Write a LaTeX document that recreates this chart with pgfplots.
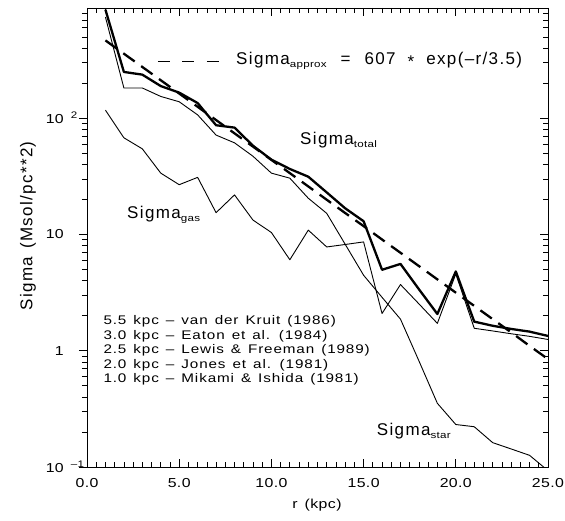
\documentclass[border=0pt]{standalone}
\usepackage{fontspec}
\setmainfont{Liberation Sans}
\newfontfamily\bigf[LetterSpace=8]{Liberation Sans}
\newfontfamily\smf[FakeStretch=1.22,LetterSpace=3]{Liberation Sans}
\newfontfamily\legf[FakeStretch=1.22,LetterSpace=7]{Liberation Sans}
\usepackage{pgfplots}
\usepackage{pgfplotstable}
\pgfplotsset{compat=1.18}
\newcommand{\B}{\bigf\fontsize{17}{20}\selectfont\spaceskip=7pt plus 1pt\relax}
\newcommand{\Sm}{\smf\fontsize{12.5}{14.6}\selectfont\spaceskip=6pt plus 1pt\relax}
\newcommand{\Lg}{\legf\fontsize{12.5}{14.6}\selectfont\spaceskip=7pt plus 1pt\relax}
\newcommand{\sub}[1]{\raisebox{-3pt}{\smf\fontsize{9.5}{10}\selectfont #1}}
\newcommand{\sups}[1]{\rlap{\hspace{7pt}\raisebox{5pt}{\smf\fontsize{9.5}{10}\selectfont #1}}}

\pgfplotstableread{
r total star gas approx
1 858 741 117.3 466.7
2 250 182 67.9 358.8
3 237 182 54.5 275.9
4 189 153.9 33.7 212.1
5 166 138.5 26.8 163.1
6 135 106.8 31.0 125.4
7 87 71.6 15.4 96.4
8 83 61.4 21.9 74.1
9 58 47.1 13.3 57.0
10 44 33.7 10.4 43.8
11 36.6 30.5 6.06 33.7
12 31.4 20.5 10.9 25.9
13 23.0 15.2 7.81 19.9
14 16.8 8.24 8.2 15.3
15 13.0 4.46 8.63 11.8
16 4.97 2.88 2.09 9.05
17 5.58 1.87 3.71 6.96
18 3.38 0.818 2.53 5.35
19 2.07 0.353 1.72 4.11
20 4.81 0.232 4.58 3.16
21 1.78 0.222 1.56 2.43
22 1.64 0.162 1.48 1.87
23 1.54 0.143 1.40 1.44
24 1.46 0.126 1.33 1.10
25 1.34 0.093 1.25 0.848
}\data

\begin{document}
\begin{tikzpicture}
\path[use as bounding box] (0,0) rectangle (565pt,520pt);
% left ticks (outside) and y labels
\begin{axis}[
  at={(87pt,53pt)}, anchor=south west,
  scale only axis, width=461pt, height=459pt,
  xmin=0, xmax=25, ymode=log, ymin=0.1, ymax=887,
  axis line style={line width=0.9pt},
  major tick length=8pt, minor tick length=5pt,
  every tick/.style={line width=0.7pt, black},
  xtick=\empty,
  ytick pos=left, tick align=outside,
  ytick={0.1,1,10,100},
  minor ytick={0.2,0.3,0.4,0.5,0.6,0.7,0.8,0.9,2,3,4,5,6,7,8,9,20,30,40,50,60,70,80,90,200,300,400,500,600,700,800},
  yticklabels={10\sups{–1},1,10,10\sups{2}},
  yticklabel style={font=\Sm\fontsize{13}{15}\selectfont, anchor=east, inner sep=0pt, xshift=-15pt},
]
\end{axis}
\begin{axis}[
  at={(87pt,53pt)}, anchor=south west,
  scale only axis, width=461pt, height=459pt,
  xmin=0, xmax=25, ymode=log, ymin=0.1, ymax=887,
  axis line style={line width=0.9pt},
  major tick length=8pt, minor tick length=5pt,
  every tick/.style={line width=0.7pt, black},
  xtick pos=both, tick align=inside,
  ytick pos=right,
  ytick={0.1,1,10,100},
  minor ytick={0.2,0.3,0.4,0.5,0.6,0.7,0.8,0.9,2,3,4,5,6,7,8,9,20,30,40,50,60,70,80,90,200,300,400,500,600,700,800},
  yticklabels={},
  xtick={0,5,10,15,20,25},
  xticklabels={0.0,5.0,10.0,15.0,20.0,25.0},
  minor x tick num=9,
  xticklabel style={font=\Sm\fontsize{13}{15}\selectfont, anchor=north, inner sep=0pt, yshift=-11pt},
  clip=true,
]
\addplot[black, line width=2.3pt, line join=round] table[x=r, y=total] {\data};
\addplot[black, line width=0.9pt, line join=round] table[x=r, y=star] {\data};
\addplot[black, line width=0.9pt, line join=round] table[x=r, y=gas] {\data};
\addplot[black, line width=2.3pt, dash pattern=on 14pt off 8pt] table[x=r, y=approx] {\data};

\draw[black, line width=0.9pt, dash pattern=on 12pt off 12.5pt] (rel axis cs:0.154,0.8845) -- (rel axis cs:0.2885,0.8845);
\node[anchor=west, inner sep=0pt] at (rel axis cs:0.3232,0.8845) {\B Sigma\sub{approx}\hspace{14pt}=\hspace{14pt}607\hspace{12pt}\raisebox{-3pt}{*}\hspace{12pt}exp(–r/3.5)};
\node[anchor=west, inner sep=0pt] at (rel axis cs:0.462,0.7124) {\B Sigma\sub{total}};
\node[anchor=west, inner sep=0pt] at (rel axis cs:0.0868,0.549) {\B Sigma\sub{gas}};
\node[anchor=west, inner sep=0pt] at (rel axis cs:0.6284,0.079) {\B Sigma\sub{star}};

\node[anchor=west, inner sep=0pt] at (rel axis cs:0.0354,0.3176) {\Lg 5.5 kpc – van der Kruit (1986)};
\node[anchor=west, inner sep=0pt] at (rel axis cs:0.0354,0.2858) {\Lg 3.0 kpc – Eaton et al. (1984)};
\node[anchor=west, inner sep=0pt] at (rel axis cs:0.0354,0.2540) {\Lg 2.5 kpc – Lewis \& Freeman (1989)};
\node[anchor=west, inner sep=0pt] at (rel axis cs:0.0354,0.2222) {\Lg 2.0 kpc – Jones et al. (1981)};
\node[anchor=west, inner sep=0pt] at (rel axis cs:0.0354,0.1904) {\Lg 1.0 kpc – Mikami \& Ishida (1981)};
\end{axis}
\node[rotate=90, inner sep=0pt] at (28pt,294pt) {\B Sigma\hspace{8pt}(Msol/pc**2)};
\node[inner sep=0pt] at (317pt,15pt) {\Sm\fontsize{13}{15}\selectfont r\hspace{7pt}(kpc)};
\end{tikzpicture}
\end{document}
